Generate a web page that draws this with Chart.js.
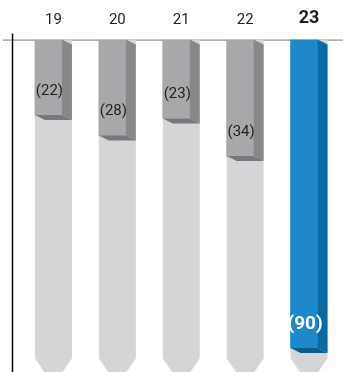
<!DOCTYPE html>
<html>
<head>
<meta charset="utf-8">
<script src="https://cdn.jsdelivr.net/npm/chart.js@4"></script>
<style>
  html, body { margin: 0; padding: 0; background: #fff; }
  #wrap { width: 343px; height: 372px; }
</style>
</head>
<body>
<div id="wrap"><canvas id="chart"></canvas></div>
<script>
// Fiscal years and results (negative = loss, shown in brackets)
const years = ['19', '20', '21', '22', '23'];
const values = [-22, -28, -23, -34, -90];
const highlight = 4; // latest year drawn in blue

// Light track behind each bar: where the arrow point starts and ends
const axisMin = -97;
const trackShoulder = -93;
const trackTip = -101;

// 3D depth of the boxes
const depthX = 10;
const depthY = 5;

const greyFace = '#a7a8aa', greySide = '#87888b', greyBottom = '#77787b';
const blueFace = '#1e88cb', blueSide = '#0b6aa4', blueBottom = '#0a5c8f';
const trackColor = '#d4d5d7';

const boxes = {
  id: 'boxes',
  beforeDatasetsDraw(chart) {
    const ctx = chart.ctx;
    const y = chart.scales.y;
    const zero = y.getPixelForValue(0);

    // axis lines
    ctx.save();
    ctx.strokeStyle = '#777';
    ctx.lineWidth = 1;
    ctx.beginPath();
    ctx.moveTo(3, zero + 0.5);
    ctx.lineTo(chart.width, zero + 0.5);
    ctx.stroke();
    ctx.strokeStyle = '#000';
    ctx.lineWidth = 1.5;
    ctx.beginPath();
    ctx.moveTo(12.5, zero - 6);
    ctx.lineTo(12.5, chart.height);
    ctx.stroke();

    // light arrow-shaped tracks
    const sh = y.getPixelForValue(trackShoulder);
    const tip = y.getPixelForValue(trackTip);
    ctx.fillStyle = trackColor;
    chart.getDatasetMeta(0).data.forEach(bar => {
      const l = bar.x - bar.width / 2;
      const w = bar.width + depthX;
      ctx.beginPath();
      ctx.moveTo(l, zero);
      ctx.lineTo(l + w, zero);
      ctx.lineTo(l + w, sh);
      ctx.lineTo(l + w / 2, tip);
      ctx.lineTo(l, sh);
      ctx.closePath();
      ctx.fill();
    });
    ctx.restore();
  },
  afterDatasetsDraw(chart) {
    const ctx = chart.ctx;
    ctx.save();
    chart.getDatasetMeta(0).data.forEach((bar, i) => {
      const hi = i === highlight;
      const l = bar.x - bar.width / 2;
      const r = bar.x + bar.width / 2;
      const top = Math.min(bar.y, bar.base);
      const bottom = Math.max(bar.y, bar.base);

      // right side
      ctx.fillStyle = hi ? blueSide : greySide;
      ctx.beginPath();
      ctx.moveTo(r, top);
      ctx.lineTo(r + depthX, top + depthY);
      ctx.lineTo(r + depthX, bottom + depthY);
      ctx.lineTo(r, bottom);
      ctx.closePath();
      ctx.fill();

      // underside
      ctx.fillStyle = hi ? blueBottom : greyBottom;
      ctx.beginPath();
      ctx.moveTo(l, bottom);
      ctx.lineTo(r, bottom);
      ctx.lineTo(r + depthX, bottom + depthY);
      ctx.lineTo(l + depthX, bottom + depthY);
      ctx.closePath();
      ctx.fill();

      // value label
      ctx.fillStyle = hi ? '#fff' : '#231f20';
      ctx.font = hi ? 'bold 19px Roboto' : '15px Roboto';
      ctx.textAlign = 'center';
      ctx.textBaseline = 'middle';
      ctx.fillText('(' + Math.abs(values[i]) + ')', bar.x + 1, bottom - 24);
    });
    ctx.restore();
  }
};

new Chart(document.getElementById('chart'), {
  type: 'bar',
  data: {
    labels: years,
    datasets: [{
      data: values,
      backgroundColor: values.map((v, i) => i === highlight ? blueFace : greyFace),
      borderWidth: 0,
      barThickness: 27
    }]
  },
  options: {
    responsive: true,
    maintainAspectRatio: false,
    animation: false,
    layout: { padding: { left: 16.5, right: 7, top: -2, bottom: 0 } },
    plugins: { legend: { display: false }, tooltip: { enabled: false } },
    scales: {
      x: {
        position: 'top',
        grid: { display: false, drawTicks: false },
        border: { display: false },
        ticks: {
          padding: 10,
          labelOffset: 5,
          color: '#231f20',
          font: c => c.index === highlight
            ? { family: 'Roboto', size: 18, weight: 'bold' }
            : { family: 'Roboto', size: 15 }
        }
      },
      y: {
        display: false,
        min: axisMin,
        max: 0
      }
    }
  },
  plugins: [boxes]
});
</script>
</body>
</html>
